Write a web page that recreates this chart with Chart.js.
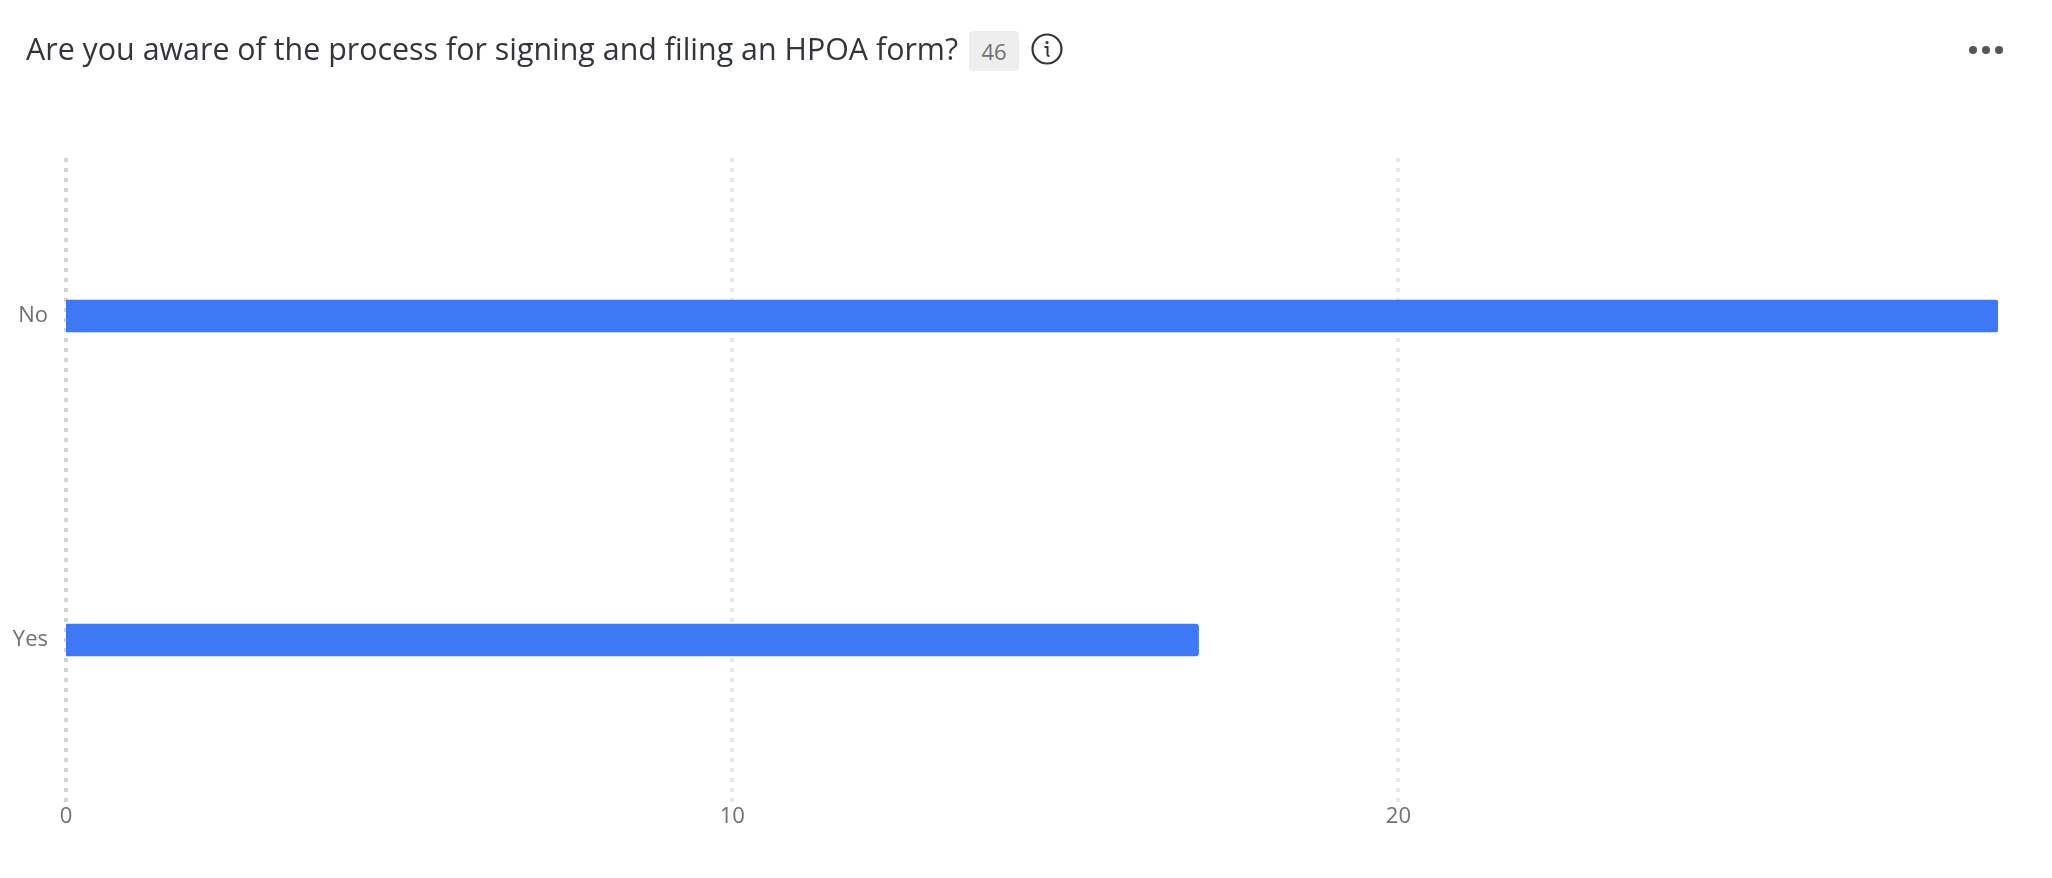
<!DOCTYPE html>
<html>
<head>
<meta charset="utf-8">
<title>HPOA form</title>
<script src="https://cdn.jsdelivr.net/npm/chart.js@4"></script>
<style>
  html, body { margin: 0; padding: 0; background: #fff; }
  body { width: 2052px; height: 878px; position: relative; overflow: hidden; font-family: "Open Sans", sans-serif; }
  #chartBox { position: absolute; left: 0; top: 0; width: 2052px; height: 878px; }
  #title { position: absolute; left: 26px; top: 29px; font-size: 30.4px; line-height: 40px; color: #32363a; white-space: nowrap; }
  #count { position: absolute; left: 969px; top: 31px; width: 50px; height: 40px; line-height: 40px; border-radius: 4px;
    background: #eeeeee; color: #6f7074; font-size: 22px; text-align: center; }
  #info { position: absolute; left: 1030px; top: 32px; }
  #more { position: absolute; left: 1968px; top: 44px; }
</style>
</head>
<body>
<div id="chartBox"><canvas id="barChart" width="2052" height="878"></canvas></div>
<div id="title">Are you aware of the process for signing and filing an HPOA form?</div>
<div id="count">46</div>
<svg id="info" width="34" height="34" viewBox="0 0 34 34">
  <circle cx="17" cy="17" r="14.5" fill="none" stroke="#32363a" stroke-width="2.2"/>
  <circle cx="17" cy="10.5" r="1.6" fill="#32363a"/>
  <path d="M14.5 15h3v7.5q0 1.5 2 1.5" fill="none" stroke="#32363a" stroke-width="2"/>
</svg>
<svg id="more" width="36" height="12" viewBox="0 0 36 12">
  <circle cx="5" cy="6" r="4" fill="#525559"/>
  <circle cx="18" cy="6" r="4" fill="#525559"/>
  <circle cx="31" cy="6" r="4" fill="#525559"/>
</svg>
<script>
const categories = ['No', 'Yes'];
const counts = [29, 17];
const xTicks = [0, 10, 20];

new Chart(document.getElementById('barChart').getContext('2d'), {
  type: 'bar',
  data: {
    labels: categories,
    // base just off zero, otherwise Chart.js insets the bar by half the 4px grid line
    datasets: [{ data: counts, base: 0.001, backgroundColor: '#3d78f5', barThickness: 32, borderRadius: 3 }]
  },
  options: {
    indexAxis: 'y',
    responsive: false,
    animation: false,
    layout: { padding: { top: 154, right: 54, bottom: 0, left: 0 } },
    plugins: { legend: { display: false }, tooltip: { enabled: false } },
    scales: {
      x: {
        min: 0,
        max: 29,
        afterBuildTicks: axis => { axis.ticks = xTicks.map(v => ({ value: v })); },
        afterFit: axis => { axis.height = 76; },
        grid: {
          drawTicks: false,
          lineWidth: 4,
          color: ctx => ctx.tick && ctx.tick.value === 0 ? '#d4d4d4' : '#e8e8e8'
        },
        border: { display: false, dash: [4, 6], dashOffset: 6 },
        ticks: { color: '#6f7074', font: { family: 'Open Sans', size: 22 }, padding: 2, maxRotation: 0 }
      },
      y: {
        afterFit: axis => { axis.width = 66; },
        grid: { display: false, drawTicks: false },
        border: { display: false },
        ticks: { color: '#6f7074', font: { family: 'Open Sans', size: 22 }, padding: 18 }
      }
    }
  }
});
</script>
</body>
</html>
